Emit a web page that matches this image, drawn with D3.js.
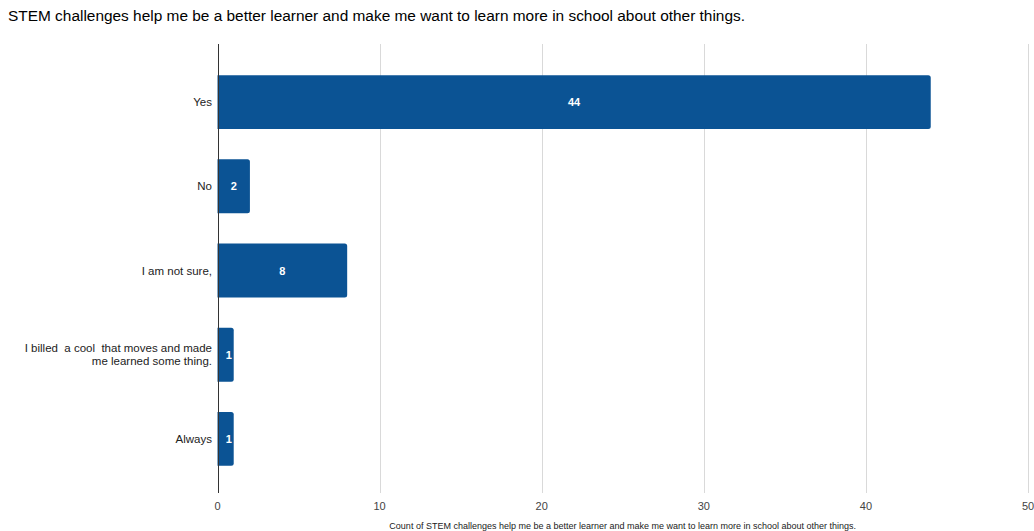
<!DOCTYPE html>
<html>
<head>
<meta charset="utf-8">
<script src="https://cdn.jsdelivr.net/npm/d3@7"></script>
<style>
  body { margin: 0; background: #fff; }
  text { font-family: "Liberation Sans", Arial, sans-serif; white-space: pre; }
</style>
</head>
<body>
<svg id="chart" width="1034" height="531"></svg>
<script>
var categories = ['Yes', 'No', 'I am not sure,', 'I billed  a cool  that moves and made|me learned some thing.', 'Always'];
var counts = [44, 2, 8, 1, 1];
var ticks = [0, 10, 20, 30, 40, 50];
var title = 'STEM challenges help me be a better learner and make me want to learn more in school about other things.';
var axisTitle = 'Count of STEM challenges help me be a better learner and make me want to learn more in school about other things.';

var svg = d3.select('#chart');
var data = categories.map(function(c, i) { return { label: c, value: counts[i] }; });

var x = d3.scaleLinear().domain([0, 50]).range([217.5, 1028]);
var y = d3.scaleBand().domain(categories).range([60, 481]).paddingInner(0.36).paddingOuter(0.18);

svg.append('text')
    .attr('x', 8).attr('y', 21)
    .attr('font-size', 15.5).attr('fill', '#000')
    .attr('textLength', 737).attr('lengthAdjust', 'spacingAndGlyphs')
    .text(title);

// gridlines
svg.append('g').selectAll('line').data(ticks.slice(1)).enter()
    .append('line')
    .attr('x1', function(d) { return Math.round(x(d)) + 0.5; })
    .attr('x2', function(d) { return Math.round(x(d)) + 0.5; })
    .attr('y1', 44).attr('y2', 493)
    .attr('stroke', '#d9d9d9').attr('stroke-width', 1);

// tick labels
svg.append('g').selectAll('text').data(ticks).enter()
    .append('text')
    .attr('x', function(d) { return x(d); })
    .attr('y', 510)
    .attr('text-anchor', 'middle')
    .attr('font-size', 11).attr('fill', '#444')
    .text(function(d) { return d; });

// bars with right corners rounded
var r = 2.5;
svg.append('g').selectAll('path').data(data).enter()
    .append('path')
    .attr('fill', '#0b5394')
    .attr('d', function(d) {
        var x0 = x(0), x1 = x(d.value), y0 = y(d.label), h = y.bandwidth();
        return 'M' + x0 + ',' + y0 + 'H' + (x1 - r) + 'Q' + x1 + ',' + y0 + ' ' + x1 + ',' + (y0 + r) +
            'V' + (y0 + h - r) + 'Q' + x1 + ',' + (y0 + h) + ' ' + (x1 - r) + ',' + (y0 + h) + 'H' + x0 + 'Z';
    });

// value labels
svg.append('g').selectAll('text').data(data).enter()
    .append('text')
    .attr('x', function(d) { return d.value > 1 ? (x(0) + x(d.value)) / 2 : x(d.value) - 8; })
    .attr('y', function(d) { return y(d.label) + y.bandwidth() / 2 + 4; })
    .attr('text-anchor', function(d) { return d.value > 1 ? 'middle' : 'start'; })
    .attr('font-size', 11).attr('font-weight', 'bold').attr('fill', '#fff')
    .text(function(d) { return d.value; });

// category labels
svg.append('g').selectAll('text').data(data).enter()
    .append('text')
    .attr('text-anchor', 'end')
    .attr('font-size', 11.5).attr('fill', '#222')
    .each(function(d) {
        var lines = d.label.split('|');
        var el = d3.select(this);
        var cy = y(d.label) + y.bandwidth() / 2 + 4 - (lines.length - 1) * 6.5;
        lines.forEach(function(l, i) {
            el.append('tspan').attr('x', 212).attr('y', cy + i * 13).text(l);
        });
    });

// axis line
svg.append('line')
    .attr('x1', 218.5).attr('x2', 218.5).attr('y1', 44).attr('y2', 493)
    .attr('stroke', '#333').attr('stroke-width', 1);

svg.append('text')
    .attr('x', (x(0) + x(50)) / 2).attr('y', 529)
    .attr('text-anchor', 'middle')
    .attr('font-size', 9).attr('fill', '#222')
    .text(axisTitle);
</script>
</body>
</html>
